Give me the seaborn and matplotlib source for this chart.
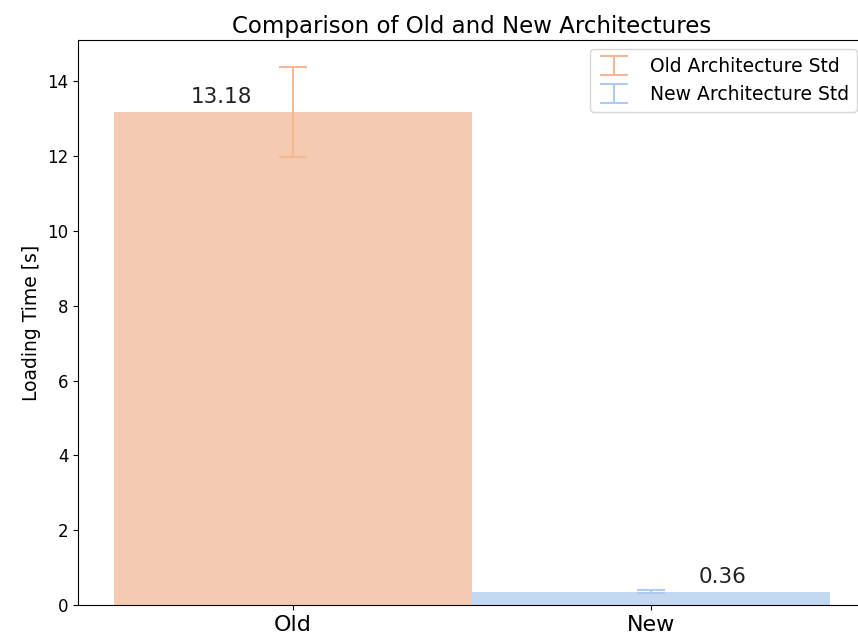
import matplotlib
matplotlib.use("Agg")
import matplotlib.pyplot as plt
import seaborn as sns
import pandas as pd

# Mean loading times and their standard deviations
architectures = ["Old", "New"]
mean_times = [13.18, 0.36]
std_times = [1.21, 0.03]
legend_labels = ["Old Architecture Std", "New Architecture Std"]

bar_colors = ["#f4cab0", "#c3d8f1"]
err_colors = ["#f3b896", "#afcbee"]

df = pd.DataFrame({"Architecture": architectures, "Loading Time": mean_times})

fig = plt.figure(figsize=(8.58, 6.38), dpi=100)
ax = fig.add_axes([0.0909, 0.0517, 0.9184, 0.8856])

sns.barplot(data=df, x="Architecture", y="Loading Time", hue="Architecture",
            palette=bar_colors, width=1.0, saturation=1, legend=False, ax=ax)

for i, (m, s) in enumerate(zip(mean_times, std_times)):
    ax.errorbar(i, m, yerr=s, fmt="none", ecolor=err_colors[i], elinewidth=1.5,
                capsize=10, capthick=1.5, label=legend_labels[i])
    ax.text(i + (-0.2 if i == 0 else 0.2), m + 0.12, f"{m:.2f}",
            ha="center", va="bottom", fontsize=15.5, color="#222222")

ax.set_xlim(-0.6, 1.6)
ax.set_ylim(0, 15.1)
ax.set_xlabel("")
ax.set_ylabel("Loading Time [s]", fontsize=13.5)
ax.set_title("Comparison of Old and New Architectures", fontsize=16.5, pad=5)
ax.tick_params(axis="y", labelsize=12)
ax.tick_params(axis="x", labelsize=16)
ax.legend(loc="upper right", fontsize=13.5, handlelength=1.8, handletextpad=1.0)

fig.savefig("out.png", dpi=100)
